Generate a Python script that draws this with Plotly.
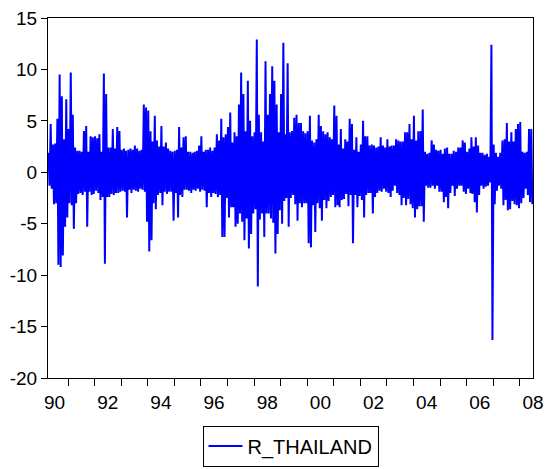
import pandas as pd
import plotly.graph_objects as go

# Monthly extremes of the daily return series (percent), Apr 1990 - Jun 2008
start_month = "1990-04"

monthly_high = [
    1.9, 4.7, 2.7, 2.8, 5.2, 9.5, 7.4, 3.2, 7.1,                      # 1990 Apr-Dec
    4.2, 9.7, 5.6, 2.4, 2.1, 2.1, 2.0, 4.0, 4.5, 2.0, 3.5, 3.4,       # 1991
    3.5, 3.3, 3.7, 2.0, 9.6, 7.6, 2.4, 2.4, 4.2, 2.3, 4.4, 4.0,       # 1992
    2.2, 2.3, 2.1, 2.2, 2.3, 2.2, 2.6, 2.3, 2.1, 2.2, 6.6, 6.3,       # 1993
    6.0, 4.0, 3.0, 5.5, 3.1, 2.5, 4.5, 2.5, 2.9, 2.3, 2.1, 2.0,       # 1994
    2.1, 2.2, 4.4, 2.4, 3.4, 3.5, 2.0, 2.0, 1.9, 2.0, 2.1, 2.6,       # 1995
    3.5, 2.0, 2.2, 2.2, 2.4, 2.1, 2.4, 3.7, 3.1, 5.2, 3.4, 3.7,       # 1996
    4.4, 5.8, 2.9, 3.9, 3.5, 6.6, 9.7, 7.6, 4.0, 8.9, 5.0, 3.5,       # 1997
    3.9, 12.9, 5.6, 3.9, 3.0, 10.8, 5.6, 7.6, 10.3, 8.9, 6.6, 3.9,    # 1998
    7.6, 12.6, 3.7, 10.6, 3.9, 4.0, 5.3, 5.6, 4.8, 4.8, 4.0, 3.8,     # 1999
    4.0, 5.5, 3.1, 2.9, 3.2, 5.6, 4.5, 4.0, 3.7, 3.9, 3.4, 3.2,       # 2000
    6.5, 5.5, 2.7, 4.2, 2.3, 3.2, 3.0, 5.2, 4.7, 2.2, 3.4, 2.0,       # 2001
    2.7, 5.0, 3.5, 3.5, 2.6, 2.7, 2.6, 2.4, 2.5, 3.4, 2.6, 2.4,       # 2002
    3.2, 2.5, 2.6, 2.6, 3.2, 3.1, 3.0, 3.0, 3.9, 3.9, 4.7, 3.2,       # 2003
    5.5, 3.1, 4.0, 4.0, 6.1, 2.0, 1.8, 1.9, 3.1, 2.7, 2.2, 2.1,       # 2004
    2.2, 1.8, 2.3, 2.4, 1.8, 1.8, 2.1, 2.0, 2.4, 2.4, 3.1, 2.9,       # 2005
    2.0, 2.3, 3.4, 2.5, 3.4, 2.6, 1.9, 1.9, 1.7, 1.8, 1.5, 12.4,      # 2006
    2.7, 1.9, 1.5, 1.9, 3.1, 3.2, 4.8, 3.0, 3.9, 3.0, 4.2, 4.7,       # 2007
    4.9, 2.0, 1.9, 2.0, 4.2, 4.2,                                     # 2008 Jan-Jun
]

monthly_low = [
    -1.3, -1.6, -3.1, -3.0, -9.0, -9.2, -8.1, -5.3, -4.4,                      # 1990 Apr-Dec
    -3.0, -3.2, -5.5, -3.0, -2.1, -2.0, -2.2, -1.9, -5.3, -1.9, -2.2, -2.1,    # 1991
    -1.8, -2.0, -2.7, -2.4, -8.9, -2.4, -2.4, -2.1, -2.2, -2.0, -2.0, -1.9,    # 1992
    -1.8, -1.9, -4.4, -1.7, -2.0, -1.7, -1.8, -1.9, -1.6, -1.7, -1.9, -4.8,    # 1993
    -7.7, -6.6, -3.0, -3.6, -2.2, -2.0, -3.2, -1.9, -2.1, -1.9, -1.9, -4.7,    # 1994
    -2.0, -4.4, -2.2, -2.4, -1.7, -1.7, -1.8, -2.0, -1.7, -1.8, -1.6, -1.9,    # 1995
    -1.7, -1.8, -3.4, -2.0, -2.4, -2.0, -2.1, -2.4, -2.2, -6.3, -6.3, -2.5,    # 1996
    -4.4, -3.4, -3.4, -5.3, -5.0, -4.0, -4.8, -6.6, -4.5, -7.4, -6.0, -4.0,    # 1997
    -3.6, -11.1, -4.6, -4.0, -6.3, -4.0, -4.0, -4.5, -4.9, -7.9, -6.0, -3.7,   # 1998
    -5.0, -2.8, -2.5, -5.3, -2.5, -2.2, -3.1, -4.7, -3.0, -3.4, -3.0, -3.0,    # 1999
    -6.9, -7.3, -3.2, -5.8, -3.0, -3.5, -4.7, -2.7, -3.5, -2.8, -2.4, -2.2,    # 2000
    -3.4, -3.2, -3.4, -2.7, -2.6, -2.1, -3.3, -2.2, -6.9, -2.2, -3.4, -2.3,    # 2001
    -2.7, -4.4, -2.2, -2.0, -2.0, -4.0, -2.4, -2.0, -1.8, -1.9, -1.6, -1.9,    # 2002
    -2.0, -2.4, -1.8, -1.3, -2.0, -2.2, -3.2, -2.5, -3.2, -2.6, -3.1, -3.5,    # 2003
    -4.4, -3.6, -3.3, -3.3, -4.8, -1.3, -1.5, -1.5, -1.3, -1.6, -1.3, -1.9,    # 2004
    -1.9, -2.9, -2.4, -3.5, -2.0, -1.3, -2.3, -1.6, -1.3, -1.3, -1.9, -2.1,    # 2005
    -1.6, -2.0, -2.1, -2.9, -3.9, -2.2, -1.3, -1.6, -1.4, -1.3, -1.0, -16.3,   # 2006
    -3.1, -1.8, -1.3, -1.6, -3.2, -2.7, -3.7, -3.6, -2.8, -3.1, -3.2, -3.5,    # 2007
    -3.0, -2.5, -1.6, -2.2, -2.9, -3.1,                                        # 2008 Jan-Jun
]

series_name = "R_THAILAND"
label_years = [1990, 1992, 1994, 1996, 1998, 2000, 2002, 2004, 2006, 2008]
year_labels = ["90", "92", "94", "96", "98", "00", "02", "04", "06", "08"]
y_ticks = [-20, -15, -10, -5, 0, 5, 10, 15]
y_tick_text = ["-20", "-15", "-10", "-5", "0", "5", "10", "15"]

# Each month contributes its high and its low, giving the dense zigzag trace
months = pd.period_range(start_month, periods=len(monthly_high), freq="M")
dates, values = [], []
for period, hi, lo in zip(months, monthly_high, monthly_low):
    first = period.start_time
    dates += [first + pd.Timedelta(days=7), first + pd.Timedelta(days=21)]
    values += [hi, lo]

fig = go.Figure(
    go.Scatter(
        x=dates,
        y=values,
        mode="lines",
        name=series_name,
        line=dict(color="#0000FF", width=2.0),
        showlegend=True,
    )
)

font_family = "Liberation Sans, Arial, sans-serif"

fig.update_layout(
    width=548,
    height=469,
    margin=dict(l=48, r=15, t=18, b=91, autoexpand=False),
    paper_bgcolor="white",
    plot_bgcolor="white",
    font=dict(family=font_family, size=19, color="black"),
    showlegend=True,
    legend=dict(
        orientation="h",
        x=0.5,
        xanchor="center",
        y=-0.132,
        yanchor="top",
        bordercolor="black",
        borderwidth=1,
        bgcolor="white",
        itemwidth=34,
        font=dict(family=font_family, size=20, color="black"),
    ),
    xaxis=dict(
        type="date",
        range=["1990-04-01", "2008-07-01 12:00"],
        showline=True,
        linecolor="black",
        linewidth=1,
        mirror=True,
        showgrid=False,
        zeroline=False,
        tickmode="array",
        tickvals=[f"{y}-07-01" for y in label_years],
        ticktext=year_labels,
        ticks="outside",
        ticklen=7,
        tickcolor="rgba(0,0,0,0)",
        tickfont=dict(size=19),
        minor=dict(
            tickmode="array",
            tickvals=[f"{y}-01-01" for y in range(1991, 2009)],
            ticks="outside",
            ticklen=7,
            tickwidth=1,
            tickcolor="black",
            showgrid=False,
        ),
    ),
    yaxis=dict(
        range=[-20, 15],
        showline=True,
        linecolor="black",
        linewidth=1,
        mirror=True,
        showgrid=False,
        zeroline=False,
        tickmode="array",
        tickvals=y_ticks,
        ticktext=y_tick_text,
        ticks="outside",
        ticklen=6,
        tickwidth=1,
        tickcolor="black",
        tickfont=dict(size=19),
    ),
)

fig.write_html("out.html")
